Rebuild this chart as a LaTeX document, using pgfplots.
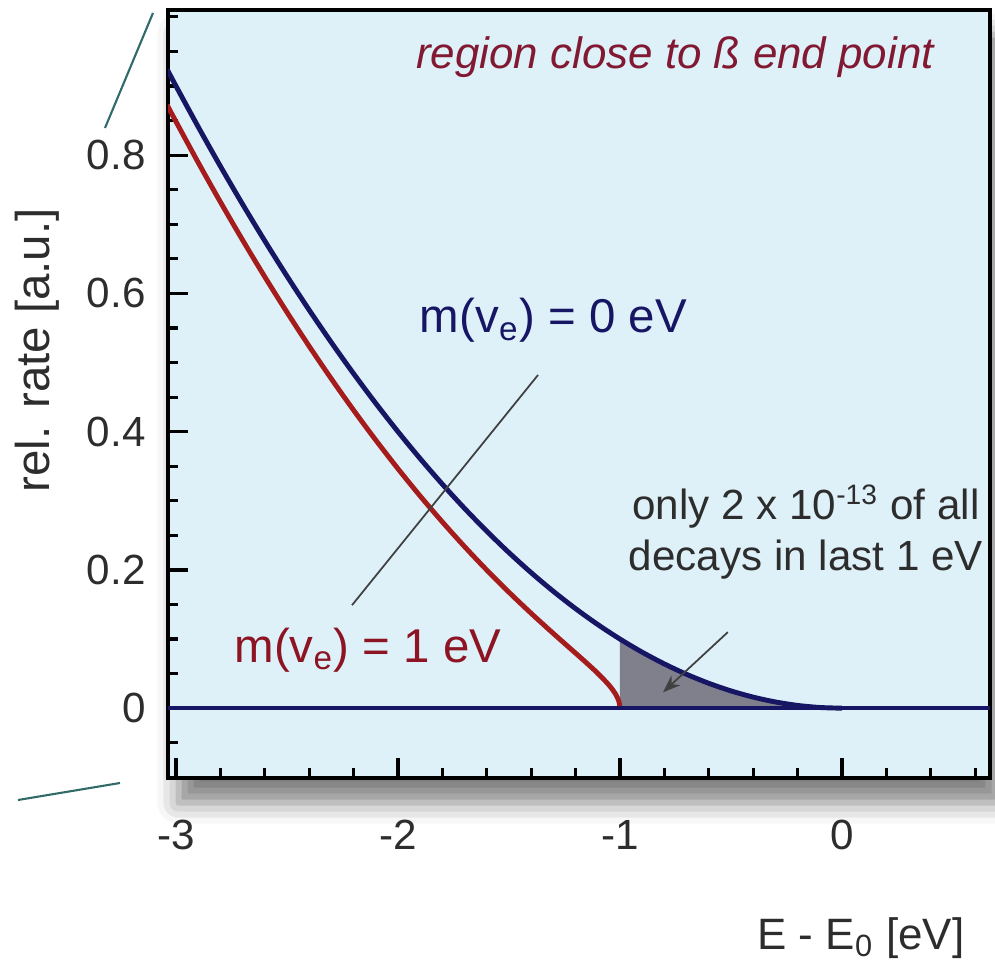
\documentclass[border=0pt]{standalone}
\usepackage{pgfplots}
\pgfplotsset{compat=1.18}
\usepackage{fontspec}
\setmainfont{Liberation Sans}
\usetikzlibrary{shadows.blur,arrows.meta}

\definecolor{bgblue}{RGB}{222,240,248}
\definecolor{navy}{RGB}{22,22,100}
\definecolor{darkred}{RGB}{165,28,28}
\definecolor{labred}{RGB}{140,20,35}
\definecolor{maroon}{RGB}{130,25,50}
\definecolor{shade}{RGB}{128,128,140}
\definecolor{ticktext}{RGB}{45,45,45}
\definecolor{teal}{RGB}{50,105,105}

\begin{document}
\begin{tikzpicture}
\begin{axis}[
    scale only axis,
    width=8.22cm, height=7.68cm,
    xmin=-3.036, xmax=0.667,
    ymin=-0.101, ymax=1.010,
    axis line style={line width=1.4pt, black},
    axis background/.style={fill=bgblue,
        blur shadow={shadow xshift=3pt, shadow yshift=-7pt, shadow blur radius=6pt, shadow opacity=50}},
    tick pos=left,
    tick align=inside,
    xtick={-3,-2,-1,0},
    ytick={0,0.2,0.4,0.6,0.8},
    minor xtick={-3.0,-2.8,-2.6,-2.4,-2.2,-1.8,-1.6,-1.4,-1.2,-0.8,-0.6,-0.4,-0.2,0.2,0.4,0.6},
    minor ytick={-0.05,0.05,0.1,0.15,0.25,0.3,0.35,0.45,0.5,0.55,0.65,0.7,0.75,0.85,0.9,0.95,1.0},
    major tick length=0.2cm,
    minor tick length=0.1cm,
    every tick/.style={black, line width=0.9pt},
    ticklabel style={font=\fontsize{12}{14}\selectfont, text=ticktext},
    /pgf/number format/assume math mode=true,
    xticklabel style={yshift=-0.3cm},
    yticklabel style={xshift=-0.1cm},
    ylabel={rel. rate [a.u.]},
    ylabel style={at={(rel axis cs:-0.159,0.557)}, anchor=center,
        font=\fontsize{13.5}{16}\selectfont, text=ticktext},
    xlabel={E - E\textsubscript{0} [eV]},
    xlabel style={at={(rel axis cs:0.843,-0.208)}, anchor=center,
        font=\fontsize{12.5}{15}\selectfont, text=ticktext},
    clip=true,
]

% shaded region: last 1 eV below the m=0 spectrum
\addplot[fill=shade, draw=none] coordinates {
    (-1.0,0) (-1.0,0.100) (-0.9,0.081) (-0.8,0.064) (-0.7,0.049) (-0.6,0.036)
    (-0.5,0.025) (-0.4,0.016) (-0.3,0.009) (-0.2,0.004) (-0.1,0.001) (0,0)
} \closedcycle;

% m(nu_e) = 1 eV
\addplot[darkred, line width=1.4pt, smooth] coordinates {
    (-3.04,0.8727) (-3.0,0.8485) (-2.9,0.7894) (-2.8,0.7323) (-2.7,0.6772)
    (-2.6,0.6240) (-2.5,0.5728) (-2.4,0.5236) (-2.3,0.4764) (-2.2,0.4311)
    (-2.1,0.3878) (-2.0,0.3464) (-1.9,0.3069) (-1.8,0.2694) (-1.7,0.2337)
    (-1.6,0.1998) (-1.5,0.1677) (-1.4,0.1372) (-1.3,0.1080) (-1.2,0.0796)
    (-1.15,0.0653) (-1.1,0.0504) (-1.05,0.0336) (-1.02,0.0205) (-1.005,0.0101)
    (-1.0,0)
};

% m(nu_e) = 0 eV
\addplot[navy, line width=1.4pt, smooth] coordinates {
    (-3.04,0.9242) (-3.0,0.900) (-2.9,0.841) (-2.8,0.784) (-2.7,0.729)
    (-2.6,0.676) (-2.5,0.625) (-2.4,0.576) (-2.3,0.529) (-2.2,0.484)
    (-2.1,0.441) (-2.0,0.400) (-1.9,0.361) (-1.8,0.324) (-1.7,0.289)
    (-1.6,0.256) (-1.5,0.225) (-1.4,0.196) (-1.3,0.169) (-1.2,0.144)
    (-1.1,0.121) (-1.0,0.100) (-0.9,0.081) (-0.8,0.064) (-0.7,0.049)
    (-0.6,0.036) (-0.5,0.025) (-0.4,0.016) (-0.3,0.009) (-0.2,0.004)
    (-0.1,0.001) (0,0)
};

% zero line
\addplot[navy, line width=1.2pt] coordinates {(-3.036,0) (0.667,0)};

% pointers
\draw[black!75, line width=0.5pt] (axis cs:-1.369,0.482) -- (axis cs:-2.207,0.149);
\draw[black!75, line width=0.5pt, -{Stealth[length=5pt]}] (axis cs:-0.514,0.110) -- (axis cs:-0.806,0.023);

% labels
\node[font=\fontsize{12.5}{15}\selectfont\itshape, text=maroon] at (axis cs:-0.752,0.942)
    {region close to ß end point};
\node[font=\fontsize{13.5}{16}\selectfont, text=navy] at (axis cs:-1.30,0.561)
    {m(v\textsubscript{e}) = 0 eV};
\node[font=\fontsize{13.5}{16}\selectfont, text=labred] at (axis cs:-2.135,0.084)
    {m(v\textsubscript{e}) = 1 eV};
\node[font=\fontsize{12}{14.5}\selectfont, text=ticktext, align=center] at (axis cs:-0.162,0.255)
    {only 2 x 10\textsuperscript{-13} of all\\decays in last 1 eV};
\end{axis}

% stray strokes at the left edge of the cropped picture
\path[use as bounding box] (0,0) ++(-1.68cm,-1.83cm) rectangle ++(9.95cm,9.61cm);
\draw[teal, line width=0.6pt] (-1.5cm,-0.22cm) -- (-0.48cm,-0.05cm);
\draw[teal, line width=0.6pt] (-0.63cm,6.5cm) -- (-0.15cm,7.65cm);
\end{tikzpicture}
\end{document}
